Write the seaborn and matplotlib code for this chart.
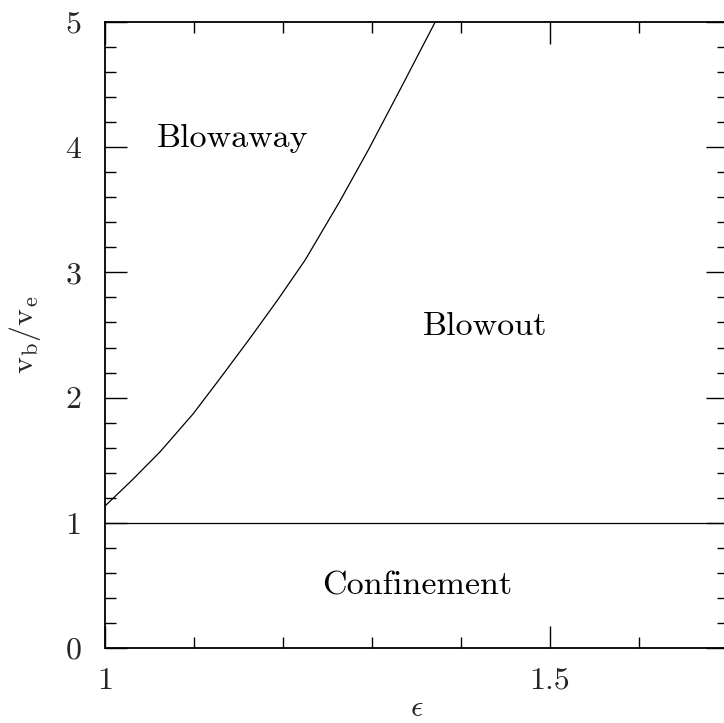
import matplotlib
matplotlib.use("Agg")
import matplotlib.pyplot as plt
import seaborn as sns
import pandas as pd
from matplotlib.ticker import MultipleLocator, FixedLocator, FixedFormatter

# Boundary curve between Blowaway and Blowout
eps_curve = [1.000, 1.031, 1.062, 1.099, 1.130, 1.163, 1.194, 1.225,
             1.264, 1.296, 1.333, 1.371]
v_curve = [1.134, 1.345, 1.568, 1.87, 2.16, 2.475, 2.78, 3.10,
           3.57, 3.98, 4.48, 5.0]

# Confinement boundary
eps_flat = [1.0, 1.7]
v_flat = [1.0, 1.0]

region_labels = ["Blowaway", "Blowout", "Confinement"]
region_x = [1.143, 1.427, 1.351]
region_y = [4.07, 2.57, 0.495]

x_ticks = [1.0, 1.5]
x_ticklabels = ["1", "1.5"]
y_ticks = [0, 1, 2, 3, 4, 5]
y_ticklabels = ["0", "1", "2", "3", "4", "5"]

sns.set_style("ticks")
plt.rcParams["font.family"] = ["cmr10", "DejaVu Serif"]
plt.rcParams["mathtext.fontset"] = "cm"
plt.rcParams["axes.formatter.use_mathtext"] = True

fig = plt.figure(figsize=(7.24, 7.23), dpi=100)
ax = fig.add_axes([105 / 724, 75 / 723, 623 / 724, 626 / 723])

df_curve = pd.DataFrame({"eps": eps_curve, "v": v_curve})
df_flat = pd.DataFrame({"eps": eps_flat, "v": v_flat})
sns.lineplot(data=df_curve, x="eps", y="v", ax=ax, color="black", lw=0.9, sort=False)
sns.lineplot(data=df_flat, x="eps", y="v", ax=ax, color="black", lw=0.9, sort=False)

for lab, x, y in zip(region_labels, region_x, region_y):
    ax.text(x, y, lab, fontsize=24.5, ha="center", va="center", color="black")

ax.set_xlim(1.0, 1.7)
ax.set_ylim(0, 5)
ax.xaxis.set_major_locator(FixedLocator(x_ticks))
ax.xaxis.set_major_formatter(FixedFormatter(x_ticklabels))
ax.xaxis.set_minor_locator(MultipleLocator(0.1))
ax.yaxis.set_major_locator(FixedLocator(y_ticks))
ax.yaxis.set_major_formatter(FixedFormatter(y_ticklabels))
ax.yaxis.set_minor_locator(MultipleLocator(0.2))

ax.tick_params(which="both", direction="in", top=True, right=True, color="black", width=1.0)
ax.tick_params(which="major", length=15.8, labelsize=23)
ax.tick_params(axis="y", which="major", pad=17)
ax.tick_params(axis="x", which="major", pad=14)
ax.tick_params(which="minor", length=7.9)
for s in ax.spines.values():
    s.set_linewidth(1.3)
    s.set_color("black")

ax.set_xlabel(r"$\epsilon$", fontsize=22, labelpad=0)
ax.set_ylabel(r"$\mathrm{v_b/v_e}$", fontsize=23, labelpad=16)

fig.savefig("out.png", dpi=100)
